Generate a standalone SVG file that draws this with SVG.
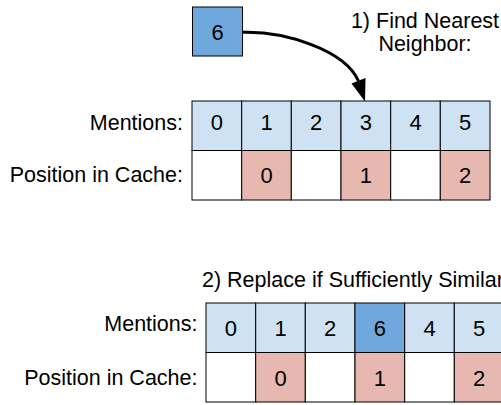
<svg xmlns="http://www.w3.org/2000/svg" width="501" height="405" viewBox="0 0 501 405">
<style>
text{font-family:"Liberation Sans",Arial,sans-serif;font-size:21.5px;fill:#000}
.m{text-anchor:middle;font-size:22px}
.t{text-anchor:middle}
.e{text-anchor:end}
.c{stroke:#000;stroke-width:1}
.lb{fill:#cfe2f3}
.db{fill:#6fa8dc}
.pk{fill:#e6b8af}
.wh{fill:#fff}
</style>
<rect width="501" height="405" fill="#fff"/>
<g id="labels">
<text class="t" x="425" y="28">1) Find Nearest</text>
<text class="t" x="425" y="50.5">Neighbor:</text>
<text class="e" x="183" y="129.5">Mentions:</text>
<text class="e" x="183" y="182">Position in Cache:</text>
<text x="202" y="287">2) Replace if Sufficiently Similar</text>
<text class="e" x="197.5" y="331">Mentions:</text>
<text class="e" x="197.5" y="385">Position in Cache:</text>
</g>
<g id="node-6">
<rect class="c db" x="192.5" y="7" width="50" height="49"/>
<text class="m" x="217.5" y="40">6</text>
</g>
<g id="grid1-mentions">
<g id="g1m0"><rect class="c lb" x="192" y="101" width="49.7" height="49.5"/><text class="m" x="216.8" y="129.5">0</text></g>
<g id="g1m1"><rect class="c lb" x="241.7" y="101" width="49.6" height="49.5"/><text class="m" x="266.5" y="129.5">1</text></g>
<g id="g1m2"><rect class="c lb" x="291.3" y="101" width="49.7" height="49.5"/><text class="m" x="316.2" y="129.5">2</text></g>
<g id="g1m3"><rect class="c lb" x="341" y="101" width="49.7" height="49.5"/><text class="m" x="365.8" y="129.5">3</text></g>
<g id="g1m4"><rect class="c lb" x="390.7" y="101" width="49.6" height="49.5"/><text class="m" x="415.5" y="129.5">4</text></g>
<g id="g1m5"><rect class="c lb" x="440.3" y="101" width="49.7" height="49.5"/><text class="m" x="465.2" y="129.5">5</text></g>
</g>
<g id="grid1-cache">
<g id="g1c0"><rect class="c wh" x="192" y="150.5" width="49.7" height="49.5"/></g>
<g id="g1c1"><rect class="c pk" x="241.7" y="150.5" width="49.6" height="49.5"/><text class="m" x="266.5" y="182.5">0</text></g>
<g id="g1c2"><rect class="c wh" x="291.3" y="150.5" width="49.7" height="49.5"/></g>
<g id="g1c3"><rect class="c pk" x="341" y="150.5" width="49.7" height="49.5"/><text class="m" x="365.8" y="182.5">1</text></g>
<g id="g1c4"><rect class="c wh" x="390.7" y="150.5" width="49.6" height="49.5"/></g>
<g id="g1c5"><rect class="c pk" x="440.3" y="150.5" width="49.7" height="49.5"/><text class="m" x="465.2" y="182.5">2</text></g>
</g>
<g id="grid2-mentions">
<g id="g2m0"><rect class="c lb" x="206" y="303" width="49.7" height="49.5"/><text class="m" x="230.8" y="335.5">0</text></g>
<g id="g2m1"><rect class="c lb" x="255.7" y="303" width="49.6" height="49.5"/><text class="m" x="280.5" y="335.5">1</text></g>
<g id="g2m2"><rect class="c lb" x="305.3" y="303" width="49.7" height="49.5"/><text class="m" x="330.2" y="335.5">2</text></g>
<g id="g2m3"><rect class="c db" x="355" y="303" width="49.7" height="49.5"/><text class="m" x="379.8" y="335.5">6</text></g>
<g id="g2m4"><rect class="c lb" x="404.7" y="303" width="49.6" height="49.5"/><text class="m" x="429.5" y="335.5">4</text></g>
<g id="g2m5"><rect class="c lb" x="454.3" y="303" width="49.7" height="49.5"/><text class="m" x="479.2" y="335.5">5</text></g>
</g>
<g id="grid2-cache">
<g id="g2c0"><rect class="c wh" x="206" y="352.5" width="49.7" height="49.5"/></g>
<g id="g2c1"><rect class="c pk" x="255.7" y="352.5" width="49.6" height="49.5"/><text class="m" x="280.5" y="385.5">0</text></g>
<g id="g2c2"><rect class="c wh" x="305.3" y="352.5" width="49.7" height="49.5"/></g>
<g id="g2c3"><rect class="c pk" x="355" y="352.5" width="49.7" height="49.5"/><text class="m" x="379.8" y="385.5">1</text></g>
<g id="g2c4"><rect class="c wh" x="404.7" y="352.5" width="49.6" height="49.5"/></g>
<g id="g2c5"><rect class="c pk" x="454.3" y="352.5" width="49.7" height="49.5"/><text class="m" x="479.2" y="385.5">2</text></g>
</g>
<g id="connectors">
<path d="M242.5,32.3 C285,31 345,50 358.5,81" fill="none" stroke="#000" stroke-width="3"/>
<polygon points="351.5,83.5 365.5,78 365,101.5" fill="#000"/>
</g>
</svg>
